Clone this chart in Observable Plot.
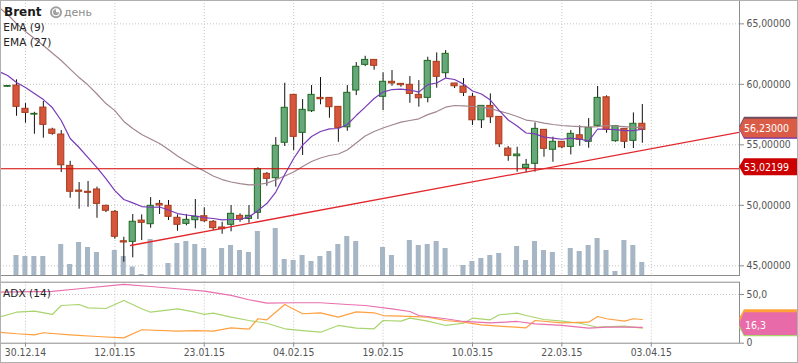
<!DOCTYPE html>
<html><head><meta charset="utf-8">
<script src="https://cdn.jsdelivr.net/npm/d3@7"></script>
<script src="https://cdn.jsdelivr.net/npm/@observablehq/plot@0.6"></script>
<style>
body{margin:0;background:#fff}
#wrap{position:relative;width:798px;height:363px;overflow:hidden;background:#fff}
#wrap svg{display:block}
#border{position:absolute;left:0;top:0;width:796px;height:361px;border:1px solid #b0b0b0;pointer-events:none}
</style></head><body><div id="wrap"><div id="border"></div></div>
<script>
// ---------- data ----------
const dateTicks = [2, 12, 22, 32, 42, 52, 62, 72];
const dateLabels = ["30.12.14","12.01.15","23.01.15","04.02.15","19.02.15","10.03.15","22.03.15","03.04.15"];
const priceTicks = [45, 50, 55, 60, 65];
const adxTicks = [0, 50];

const openP = [59.80,59.90,57.98,57.50,58.08,56.26,55.85,53.26,51.22,51.12,
 51.31,49.96,49.46,47.03,46.98,48.74,48.44,50.12,49.96,48.97,
 48.47,48.77,49.10,48.64,48.17,48.39,49.13,48.88,49.38,52.60,
 52.24,55.17,59.13,55.99,57.78,58.88,58.88,58.14,56.45,59.49,
 61.61,62.02,58.97,60.21,60.04,59.96,59.13,58.88,61.86,60.92,
 60.07,59.82,58.97,57.03,58.22,57.31,54.69,54.06,53.07,53.43,
 56.24,54.59,55.25,54.83,55.79,55.25,56.57,58.93,55.30,56.32,
 55.33,56.74];
const highP = [59.90,60.37,58.41,57.69,58.58,56.37,56.18,53.64,51.88,51.97,
 51.50,50.01,49.57,47.36,49.24,49.21,50.64,50.40,50.40,49.21,
 49.24,50.48,49.79,48.74,48.60,49.98,49.30,49.98,53.10,52.71,
 55.60,60.09,59.15,58.74,59.90,60.56,58.90,58.16,59.90,61.80,
 62.32,62.05,60.95,61.14,60.05,60.64,60.31,62.24,62.60,62.79,
 60.07,60.48,59.26,58.22,59.21,57.31,54.86,54.80,53.79,56.82,
 56.26,55.63,55.27,56.18,56.57,57.17,59.82,59.05,56.55,56.33,
 57.64,58.33];
const lowP = [59.75,57.36,56.79,55.88,55.55,55.79,52.71,50.59,49.68,49.84,
 48.93,49.40,47.20,45.30,45.66,47.09,48.11,49.24,48.74,47.86,
 48.31,48.06,48.58,47.92,47.61,47.81,48.60,48.52,48.83,51.58,
 51.50,54.86,54.53,54.12,57.67,58.31,57.20,55.21,56.12,59.07,
 61.47,61.17,57.83,59.84,59.76,58.44,58.11,58.47,59.68,60.50,
 59.65,58.99,56.60,56.35,56.76,54.78,53.64,52.74,52.69,52.74,
 53.98,53.56,54.67,54.17,54.88,54.72,56.45,55.96,55.22,54.69,
 54.69,55.13];
const closeP = [59.86,58.14,57.64,57.56,56.65,55.91,53.31,51.12,51.12,51.03,
 50.12,49.55,47.40,46.93,48.64,48.55,49.96,49.98,49.05,48.39,
 48.80,49.05,48.69,48.11,48.03,49.30,48.80,49.13,52.98,52.19,
 54.92,58.06,55.66,57.89,59.13,58.77,58.11,56.40,59.30,61.45,
 62.02,61.53,60.21,60.07,59.93,59.21,58.85,61.94,60.62,62.52,
 59.84,59.30,57.03,58.22,57.28,55.05,54.09,54.20,53.35,56.32,
 54.67,55.25,54.80,55.91,55.41,56.40,58.88,56.24,56.54,55.25,
 56.74,56.23];
const volume = [0,20,19,19,19,0,31,11,33,28,
 23,0,25,19,8.5,1,36,0,12,32,
 34,31,27,0,27,30,25,23,44,0,
 47,16,15,20,14,19,24,31,39,34,
 0,0,28,20,0,35,30,31,34,27,
 0,10,14,17,20,22,0,29,15,34,
 25,23,0,27,24,30,37,25,4,35,
 30,13];
// EMA values start one session before the first visible candle (index -1)
const ema9 = [61.07,60.73,60.15,59.74,59.24,58.74,58.08,57.01,55.52,54.78,53.95,
 53.12,52.21,51.22,50.48,50.20,49.90,49.84,49.86,49.61,49.32,
 49.20,49.12,48.99,48.91,48.80,48.83,48.85,49.03,49.57,50.15,
 51.10,52.55,53.87,54.98,55.69,56.10,56.32,56.35,56.68,57.42,
 58.12,58.83,59.36,59.57,59.61,59.53,59.36,59.98,60.11,60.52,
 60.40,60.02,59.45,59.20,58.70,57.83,57.05,56.55,55.98,55.91,
 55.64,55.55,55.46,55.55,55.48,55.31,56.31,56.29,56.26,56.18,
 56.18,56.29];
const ema27 = [66.38,65.77,65.02,64.36,63.79,63.21,62.59,61.97,61.26,60.56,59.94,
 59.20,58.41,57.83,56.93,56.35,55.85,55.48,55.11,54.61,54.07,
 53.62,53.21,52.83,52.42,52.13,51.93,51.80,51.69,51.72,51.84,
 52.11,52.42,52.75,53.21,53.62,53.91,54.12,54.24,54.57,55.15,
 55.73,56.10,56.39,56.64,56.88,57.01,57.15,57.50,57.75,58.11,
 58.25,58.22,58.17,58.11,58.00,57.79,57.59,57.34,57.05,56.95,
 56.80,56.68,56.60,56.54,56.51,56.47,56.51,56.60,56.55,56.50,
 56.45,56.45];
const supportLevel = 53.02199;
const lastClose = 56.23;
const trendIdx = [13.75, 81.87];
const trendVal = [46.68, 56.04];

// ADX (14) panel
const adxIdx = [-1,5,8,13,16,19,22,25,27,29,32,35,38,40,43,45,46,49,51,54,57,59,62,65,67,69,71];
const adxVal = [52.4,53.1,55.9,60.3,58.2,55.9,53.4,49.0,44.6,41.1,41.5,41.5,39.7,38.7,35.3,32.5,28.4,25.1,22.3,20.9,22.3,19.9,18.2,15.4,16.4,16.4,16.3];
const pdiIdx = [-1,1,3,5,6,8,9,11,13,15,16,19,21,22,23,25,27,29,31,33,35,37,39,41,42,44,45,47,49,51,52,54,55,57,58,60,62,64,66,69,71];
const pdiVal = [26.7,31.8,32.9,29.5,38.7,39.7,36.3,35.6,43.8,35.3,31.8,35.3,31.8,29.5,30.8,26.7,23.3,20.5,14.8,13.0,11.3,18.2,15.4,14.8,23.3,22.6,25.7,22.6,18.2,20.5,25.7,24.0,29.2,30.8,28.4,24.3,22.6,20.5,16.4,17.5,15.4];
const mdiIdx = [-1,1,3,4,7,10,13,15,19,21,23,25,27,28,29,31,33,35,37,39,41,42,44,47,49,51,53,55,58,59,62,65,66,67,69,70,71];
const mdiVal = [11.3,9.7,8.6,10.7,8.6,6.9,5.5,13.8,12.3,13.0,12.3,15.8,14.4,25.1,24.0,39.7,30.2,31.2,26.7,32.2,31.2,28.4,27.7,26.7,23.3,21.6,18.9,17.5,15.8,23.3,20.9,21.6,27.4,25.1,22.6,25.1,24.3];
const adxLabel = 16.3, mdiLabel = 28.9;

// ---------- tables ----------
const candles = openP.map((o, i) => ({i, open: o, high: highP[i], low: lowP[i], close: closeP[i]}));
const vols = volume.map((v, i) => ({i, v})).filter(d => d.v > 0);
const ema9Rows = ema9.map((v, k) => ({i: k - 1, v}));
const ema27Rows = ema27.map((v, k) => ({i: k - 1, v}));
const trendRows = trendIdx.map((i, k) => ({i, v: trendVal[k]}));
const adxRows = adxIdx.map((i, k) => ({i, v: adxVal[k]}));
const pdiRows = pdiIdx.map((i, k) => ({i, v: pdiVal[k]}));
const mdiRows = mdiIdx.map((i, k) => ({i, v: mdiVal[k]}));

const Y_MIN = 44.2, Y_MAX = 66.93;
const X_DOMAIN = [-0.794, 81.87];
const VOL_UNIT = (Y_MAX - Y_MIN) / 275;
const FONT = "'DejaVu Sans Condensed','DejaVu Sans',sans-serif";
const SANS = "'DejaVu Sans',sans-serif";
const comma = (v, d) => v.toFixed(d).replace(".", ",");
const gridStyle = {stroke: "#c4c4c4", strokeOpacity: 1, strokeDasharray: "1,2"};

function tagPath(g, x0, xr, top, bottom, fill) {
  const cy = (top + bottom) / 2;
  g.append("path").attr("d", `M${x0},${cy}L${x0 + 5},${top}H${xr}V${bottom}H${x0 + 5}Z`).attr("fill", fill);
  return cy;
}
function label(g, x, y, txt, opts) {
  const t = g.append("text").attr("x", x).attr("y", y).attr("text-anchor", "start")
    .attr("font-family", opts.family || SANS).attr("font-size", opts.size || 10.6)
    .attr("fill", opts.fill || "#222").text(txt);
  if (opts.weight) t.attr("font-weight", opts.weight);
  if (opts.dy) t.attr("dy", opts.dy);
  return t;
}

const mainOverlay = (index, scales, values, dims) => {
  const y = scales.y;
  const x0 = dims.width - dims.marginRight, xr = dims.width;
  const g = d3.create("svg:g");
  const e27 = ema27[ema27.length - 1], e9 = ema9[ema9.length - 1];
  tagPath(g, x0, xr, y(e27) - 10, y(e27) + 10, "#6f4e60");
  tagPath(g, x0, xr, y(e9) - 9.5, y(e9) + 10, "#6a2fa8");
  const c1 = tagPath(g, x0, xr, y(lastClose) - 10.6, y(lastClose) + 8, "#db5c46");
  label(g, x0 + 5, c1 + 0.5, comma(lastClose, 5), {family: FONT, size: 10.5, fill: "#fff", dy: "0.36em"});
  const c2 = tagPath(g, x0, xr, y(supportLevel) - 9.9, y(supportLevel) + 6.9, "#cc0000");
  label(g, x0 + 5, c2 + 0.5, comma(supportLevel, 5), {family: FONT, size: 10.5, fill: "#fff", dy: "0.36em"});
  // title block
  label(g, 4, 16.3, "Brent", {size: 12, weight: "bold", fill: "#1a1a1a"});
  g.append("circle").attr("cx", 56).attr("cy", 12.3).attr("r", 5).attr("fill", "#fff").attr("stroke", "#a0a0a0").attr("stroke-width", 2);
  g.append("path").attr("d", "M56,12.3V9.3A3,3 0 1 0 59,12.3Z").attr("fill", "#a0a0a0");
  label(g, 64, 16.3, "день", {size: 11, fill: "#8c8c8c"});
  label(g, 3.3, 30.8, "EMA (9)", {size: 10.6, fill: "#222"});
  label(g, 3.3, 45.8, "EMA (27)", {size: 10.6, fill: "#222"});
  return g.node();
};

const mainPlot = Plot.plot({
  width: 798, height: 278,
  marginLeft: 0, marginRight: 59, marginTop: 0, marginBottom: 3,
  style: {background: "transparent", fontFamily: FONT, fontSize: "10.3px", color: "#555", overflow: "visible"},
  x: {type: "linear", domain: X_DOMAIN, axis: null},
  y: {type: "linear", domain: [Y_MIN, Y_MAX]},
  marks: [
    Plot.gridY(priceTicks, gridStyle),
    Plot.gridX(dateTicks, gridStyle),
    Plot.rect(vols, {x1: d => d.i - 0.5, x2: d => d.i + 0.5, y1: () => Y_MIN, y2: d => Y_MIN + d.v * VOL_UNIT,
      fill: "#a6b6c4", insetLeft: 1.9, insetRight: 2}),
    Plot.ruleX(candles, {x: "i", y1: "low", y2: "high", stroke: "#111", strokeWidth: 1}),
    Plot.rect(candles, {x1: d => d.i - 0.5, x2: d => d.i + 0.5, y1: "open", y2: "close",
      fill: d => d.close >= d.open ? "#66a77c" : "#d8553d",
      stroke: d => d.close >= d.open ? "#1f6a1f" : "#a43d1c", strokeWidth: 1,
      insetLeft: 1.4, insetRight: 1.4}),
    Plot.line(ema27Rows, {x: "i", y: "v", stroke: "#a2868f", strokeWidth: 1.2, clip: true}),
    Plot.line(ema9Rows, {x: "i", y: "v", stroke: "#7a3ab8", strokeWidth: 1.2, clip: true}),
    Plot.ruleY([supportLevel], {stroke: "#d30000", strokeWidth: 1.2}),
    Plot.line(trendRows, {x: "i", y: "v", stroke: "#e2262b", strokeWidth: 1.3, clip: true}),
    Plot.frame({stroke: "#8c8c8c"}),
    Plot.axisY(priceTicks, {anchor: "right", tickSize: 4, tickPadding: 3, label: null,
      tickFormat: d => comma(d, 5), stroke: "#8c8c8c", fill: "#555"}),
    mainOverlay
  ]
});

const adxOverlay = (index, scales, values, dims) => {
  const y = scales.y;
  const x0 = dims.width - dims.marginRight, xr = dims.width;
  const g = d3.create("svg:g");
  const oTop = y(mdiLabel) - 5.25;
  const c1 = tagPath(g, x0, xr, oTop, oTop + 18, "#ffa23a");
  label(g, x0 + 6, c1, comma(mdiLabel, 1), {family: FONT, size: 10.5, fill: "#fff", dy: "0.36em"});
  const gBot = y(pdiVal[pdiVal.length - 1]) + 8.6;
  tagPath(g, x0, xr, gBot - 18, gBot, "#a8d46c");
  const c3 = tagPath(g, x0, xr, y(adxLabel) - 14.5, y(adxLabel) + 8.2, "#e86aa8");
  label(g, x0 + 6, c3 + 1.5, comma(adxLabel, 1), {family: FONT, size: 10.5, fill: "#fff", dy: "0.36em"});
  label(g, 3, 18.8, "ADX (14)", {size: 10.6, fill: "#222"});
  return g.node();
};

const adxPlot = Plot.plot({
  width: 798, height: 85,
  marginLeft: 0, marginRight: 59, marginTop: 3.7, marginBottom: 20.3,
  style: {background: "transparent", fontFamily: FONT, fontSize: "10.3px", color: "#555", overflow: "visible"},
  x: {type: "linear", domain: X_DOMAIN},
  y: {type: "linear", domain: [0, 62.6]},
  marks: [
    Plot.gridY([50], gridStyle),
    Plot.gridX(dateTicks, gridStyle),
    Plot.line(pdiRows, {x: "i", y: "v", stroke: "#a9d46f", strokeWidth: 1.2, clip: true}),
    Plot.line(mdiRows, {x: "i", y: "v", stroke: "#ffa040", strokeWidth: 1.2, clip: true}),
    Plot.line(adxRows, {x: "i", y: "v", stroke: "#e870ad", strokeWidth: 1.2, clip: true}),
    Plot.frame({stroke: "#8c8c8c"}),
    Plot.axisY(adxTicks, {anchor: "right", tickSize: 4, tickPadding: 3, label: null,
      tickFormat: d => d === 0 ? "0" : comma(d, 1), stroke: "#8c8c8c", fill: "#555"}),
    Plot.axisX(dateTicks, {anchor: "bottom", tickSize: 4, tickPadding: 1.5, label: null,
      tickFormat: d => dateLabels[dateTicks.indexOf(d)], stroke: "#8c8c8c", fill: "#555"}),
    adxOverlay
  ]
});

const wrap = document.getElementById("wrap");
wrap.insertBefore(adxPlot, wrap.firstChild);
wrap.insertBefore(mainPlot, wrap.firstChild);
</script>
</body></html>
